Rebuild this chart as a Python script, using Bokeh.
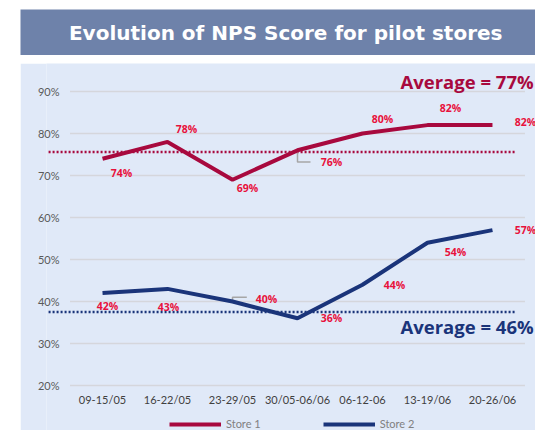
from bokeh.plotting import figure
from bokeh.models import (Range1d, FixedTicker, Legend, LegendItem, Label,
                          ColumnDataSource)
from bokeh.layouts import column
from bokeh.embed import file_html
from bokeh.resources import INLINE
from bokeh.core.properties import value

# ---------------- data ----------------
title_text = "Evolution of NPS Score for pilot stores"
categories = ["09-15/05", "16-22/05", "23-29/05", "30/05-06/06",
              "06-12-06", "13-19/06", "20-26/06"]
store1 = [74, 78, 69, 76, 80, 82, 82]
store2 = [42, 43, 40, 36, 44, 54, 57]
series_names = ["Store 1", "Store 2"]
avg1_level = 75.6          # level of the dotted reference line as drawn
avg2_level = 37.5
avg1_label = "Average = 77%"
avg2_label = "Average = 46%"
y_ticks = [20, 30, 40, 50, 60, 70, 80, 90]
y_tick_labels = ["20%", "30%", "40%", "50%", "60%", "70%", "80%", "90%"]

# label offsets (screen px, +y = down)
s1_dx = [19, 19, 15, 34, 20, 23, 33]
s1_dy = [14, -13, 8, 12, -15, -17, -3]
s2_dx = [5, 1, 34, 34, 32, 28, 33]
s2_dy = [13, 18, -3, 0, 0, 9, 0]

# ---------------- styles ----------------
BANNER = "#6e82aa"
BG = "#e0e9f8"
C1 = "#a8093e"
C2 = "#1a347a"
LBL = "#e8113c"
GRID = "#d5d6dc"
LEADER = "#a6a6a6"

idx = list(range(len(categories)))

# ---------------- banner ----------------
top = figure(width=515, height=46, x_range=Range1d(0, 1), y_range=Range1d(0, 1),
             x_axis_type=None, y_axis_type=None, toolbar_location=None,
             output_backend="svg", min_border=0, background_fill_color=BANNER,
             border_fill_color=BANNER, outline_line_color=None,
             margin=(9, 0, 0, 20))
top.frame_align = False
top.add_layout(Label(x=0.515, y=0.5, text=title_text, text_align="center",
                     text_baseline="middle", text_color="white",
                     text_font="DejaVu Sans", text_font_style="bold",
                     text_font_size="20px"))

# ---------------- chart ----------------
p = figure(width=515, height=367, x_range=Range1d(-0.862, 6.662),
           y_range=Range1d(9.286, 96.67), toolbar_location=None,
           x_axis_location=None,
           output_backend="svg", background_fill_color=BG, border_fill_color=BG,
           outline_line_color=None, min_border_left=26, min_border_right=0,
           min_border_top=0, min_border_bottom=0, margin=(8, 0, 0, 20))
p.frame_align = False
p.xgrid.visible = False
p.ygrid.visible = False

# y axis
p.yaxis.ticker = FixedTicker(ticks=y_ticks)
p.yaxis.major_label_overrides = {t: l for t, l in zip(y_ticks, y_tick_labels)}
p.yaxis.axis_line_color = None
p.yaxis.major_tick_line_color = None
p.yaxis.minor_tick_line_color = None
p.yaxis.major_tick_out = 0
p.yaxis.major_label_standoff = -13
p.yaxis.major_label_text_color = "#595959"
p.yaxis.major_label_text_font = "Lato"
p.yaxis.major_label_text_font_size = "11px"

# category labels along the bottom gridline
csrc = ColumnDataSource(dict(x=idx, y=[y_ticks[0]] * len(idx), t=categories))
p.text(x="x", y="y", text="t", y_offset=14, source=csrc, text_align="center",
       text_baseline="middle", text_color="#404040", text_font=value("Lato"),
       text_font_size="11px")

# gridlines limited to the category band
gsrc = ColumnDataSource(dict(x0=[-0.5] * len(y_ticks), x1=[6.5] * len(y_ticks),
                             y=y_ticks))
p.segment(x0="x0", x1="x1", y0="y", y1="y", source=gsrc, line_color=GRID,
          line_width=1.5)

# average dotted lines
p.line([-0.83, 6.35], [avg1_level, avg1_level], line_color=C1, line_width=2.5,
       line_dash="2 2")
p.line([-0.83, 6.35], [avg2_level, avg2_level], line_color=C2, line_width=2.5,
       line_dash="2 2")

# leader lines for two labels
p.multi_line(xs=[[3.0, 3.0, 3.2], [2.0, 2.0, 2.22]],
             ys=[[store1[3], 73.2, 73.2], [store2[2], 41.0, 41.0]],
             line_color=LEADER, line_width=1.5)

# series lines
r1 = p.line(idx, store1, line_color=C1, line_width=4)
r2 = p.line(idx, store2, line_color=C2, line_width=4)

# data labels
for vals, dx, dy in ((store1, s1_dx, s1_dy), (store2, s2_dx, s2_dy)):
    src = ColumnDataSource(dict(x=idx, y=vals, t=[f"{v}%" for v in vals],
                                dx=dx, dy=dy))
    p.text(x="x", y="y", text="t", x_offset="dx", y_offset="dy", source=src,
           text_align="center", text_baseline="middle", text_color=LBL,
           text_font=value("Open Sans"), text_font_style="bold",
           text_font_size="10.5px")

# average labels
p.add_layout(Label(x=6, y=avg1_level, x_offset=-92, y_offset=70.5,
                   text=avg1_label, text_align="left", text_baseline="middle",
                   text_color=C1, text_font="Open Sans", text_font_style="bold",
                   text_font_size="18.5px"))
p.add_layout(Label(x=6, y=avg2_level, x_offset=-92, y_offset=-14.5,
                   text=avg2_label, text_align="left", text_baseline="middle",
                   text_color=C2, text_font="Open Sans", text_font_style="bold",
                   text_font_size="18.5px"))

# legend at the bottom of the panel
legend = Legend(items=[LegendItem(label=series_names[0], renderers=[r1]),
                       LegendItem(label=series_names[1], renderers=[r2])],
                orientation="horizontal", location=(123, 0), glyph_width=52,
                glyph_height=12, label_height=12, label_standoff=5, spacing=62,
                padding=0, margin=0, background_fill_alpha=0,
                border_line_color=None, label_text_color="#808080",
                label_text_font="Lato", label_text_font_size="11px")
p.add_layout(legend)

layout = column(top, p, spacing=0)
open("out.html", "w").write(file_html(layout, INLINE))
